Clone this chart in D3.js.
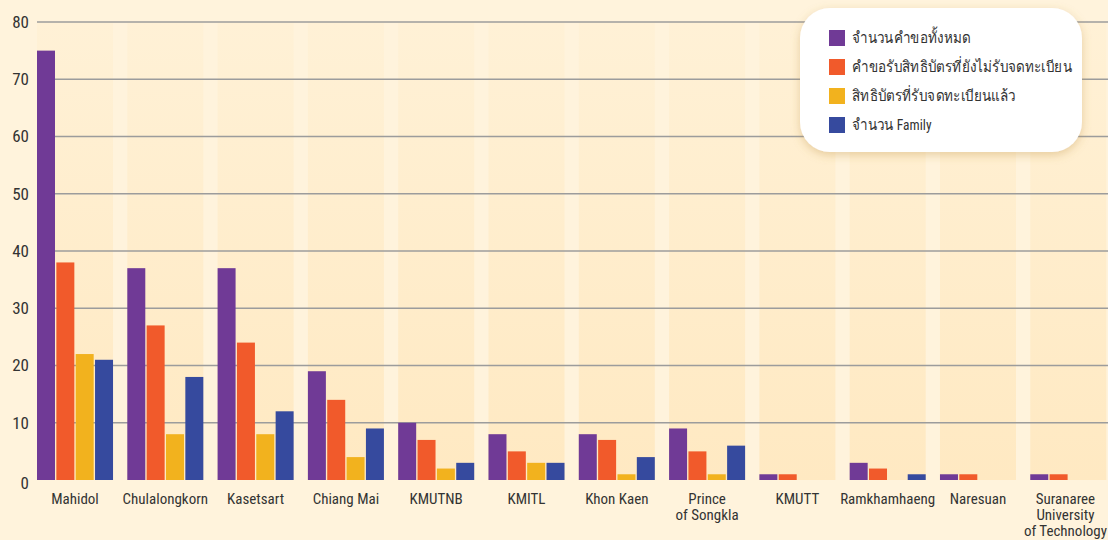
<!DOCTYPE html>
<html>
<head>
<meta charset="utf-8">
<script src="https://cdn.jsdelivr.net/npm/d3@7"></script>
<style>
  body { margin: 0; background: #fff3dc; }
  svg { display: block; }
  text { font-family: "Liberation Sans Narrow", "Roboto Condensed", "Liberation Sans", "Noto Sans", sans-serif; fill: #333; }
</style>
</head>
<body>
<div id="chart"></div>
<script>
// universities (x labels, \n = line break)
var universities = ["Mahidol", "Chulalongkorn", "Kasetsart", "Chiang Mai", "KMUTNB", "KMITL",
  "Khon Kaen", "Prince\nof Songkla", "KMUTT", "Ramkhamhaeng", "Naresuan",
  "Suranaree\nUniversity\nof Technology"];

var seriesNames = ["จำนวนคำขอทั้งหมด", "คำขอรับสิทธิบัตรที่ยังไม่รับจดทะเบียน",
  "สิทธิบัตรที่รับจดทะเบียนแล้ว", "จำนวน Family"];

var totalRequests = [75, 37, 37, 19, 10, 8, 8, 9, 1, 3, 1, 1];
var pendingRequests = [38, 27, 24, 14, 7, 5, 7, 5, 1, 2, 1, 1];
var registered = [22, 8, 8, 4, 2, 3, 1, 1, 0, 0, 0, 0];
var families = [21, 18, 12, 9, 3, 3, 4, 6, 0, 1, 0, 0];

var yTicks = [0, 10, 20, 30, 40, 50, 60, 70, 80];
var colors = ["#703a96", "#f15a2b", "#f2b21e", "#364a9e"];

var width = 1108, height = 540;

var svg = d3.select("#chart").append("svg")
  .attr("width", width)
  .attr("height", height);

var defs = svg.append("defs");
var grad = defs.append("linearGradient")
  .attr("id", "bandGrad")
  .attr("x1", 0).attr("y1", 0).attr("x2", 0).attr("y2", 1);
grad.append("stop").attr("offset", "0%").attr("stop-color", "#fff1d6");
grad.append("stop").attr("offset", "100%").attr("stop-color", "#ffe9c2");

var shadow = defs.append("filter").attr("id", "shadow")
  .attr("x", "-20%").attr("y", "-20%").attr("width", "140%").attr("height", "150%");
shadow.append("feDropShadow")
  .attr("dx", 0).attr("dy", 3).attr("stdDeviation", 5)
  .attr("flood-color", "#b98a3a").attr("flood-opacity", 0.35);

// scales
var x = d3.scaleBand()
  .domain(universities)
  .range([37, 1106.3])
  .paddingInner(0.158)
  .paddingOuter(0);

var x1 = d3.scaleBand()
  .domain(d3.range(4))
  .range([0, x.bandwidth()])
  .paddingInner(0.07);

var y = d3.scaleLinear()
  .domain([0, 80])
  .range([480, 22]);

// column bands
svg.append("g").selectAll("rect")
  .data(universities)
  .enter()
  .append("rect")
  .attr("x", function(d) { return x(d); })
  .attr("y", y(80))
  .attr("width", x.bandwidth())
  .attr("height", y(0) - y(80))
  .attr("fill", "url(#bandGrad)");

// gridlines
svg.append("g").selectAll("line")
  .data(yTicks.filter(function(t) { return t > 0; }))
  .enter()
  .append("line")
  .attr("x1", 37)
  .attr("x2", width)
  .attr("y1", function(d) { return y(d); })
  .attr("y2", function(d) { return y(d); })
  .attr("stroke", "#9c9c9c")
  .attr("stroke-width", 1.5);

// y labels
svg.append("g").selectAll("text")
  .data(yTicks)
  .enter()
  .append("text")
  .attr("x", 29)
  .attr("y", function(d) { return d === 0 ? y(d) + 3 : y(d); })
  .attr("dy", "0.35em")
  .attr("text-anchor", "end")
  .style("font-size", "17px")
  .text(function(d) { return d; });

// bars
var allSeries = [totalRequests, pendingRequests, registered, families];
var groups = svg.append("g").selectAll("g")
  .data(universities)
  .enter()
  .append("g")
  .attr("transform", function(d) { return "translate(" + x(d) + ",0)"; });

groups.selectAll("rect")
  .data(function(d, i) { return allSeries.map(function(s, k) { return {k: k, v: s[i]}; }); })
  .enter()
  .append("rect")
  .attr("x", function(d) { return x1(d.k); })
  .attr("y", function(d) { return y(d.v); })
  .attr("width", x1.bandwidth())
  .attr("height", function(d) { return y(0) - y(d.v); })
  .attr("fill", function(d) { return colors[d.k]; });

// x labels
var labels = svg.append("g").selectAll("text")
  .data(universities)
  .enter()
  .append("text")
  .attr("x", function(d) { return x(d) + x.bandwidth() / 2; })
  .attr("y", 504)
  .attr("text-anchor", "middle")
  .style("font-size", "15px");

labels.selectAll("tspan")
  .data(function(d) { return d.split("\n"); })
  .enter()
  .append("tspan")
  .attr("x", function() { return d3.select(this.parentNode).attr("x"); })
  .attr("dy", function(d, i) { return i === 0 ? 0 : 16; })
  .text(function(d) { return d; });

// keep the long last label inside the picture
labels.each(function() {
  var bb = this.getBBox();
  var over = bb.x + bb.width - (width - 1);
  if (over > 0) {
    d3.select(this).selectAll("tspan")
      .attr("x", function() { return +d3.select(this).attr("x") - over; });
  }
});

// legend
var legend = svg.append("g");
legend.append("rect")
  .attr("x", 800).attr("y", 8)
  .attr("width", 282).attr("height", 144)
  .attr("rx", 30).attr("ry", 30)
  .attr("fill", "#fff")
  .attr("filter", "url(#shadow)");

var items = legend.selectAll("g.item")
  .data(seriesNames)
  .enter()
  .append("g")
  .attr("class", "item")
  .attr("transform", function(d, i) { return "translate(829," + (38 + i * 29) + ")"; });

items.append("rect")
  .attr("x", 0).attr("y", -8)
  .attr("width", 16).attr("height", 16)
  .attr("fill", function(d, i) { return colors[i]; });

// legend font is condensed in the original, squeeze it a bit
items.append("text")
  .attr("transform", "translate(23,0) scale(0.87,1)")
  .attr("dy", "0.35em")
  .style("font-size", "15.5px")
  .text(function(d) { return d; });
</script>
</body>
</html>
